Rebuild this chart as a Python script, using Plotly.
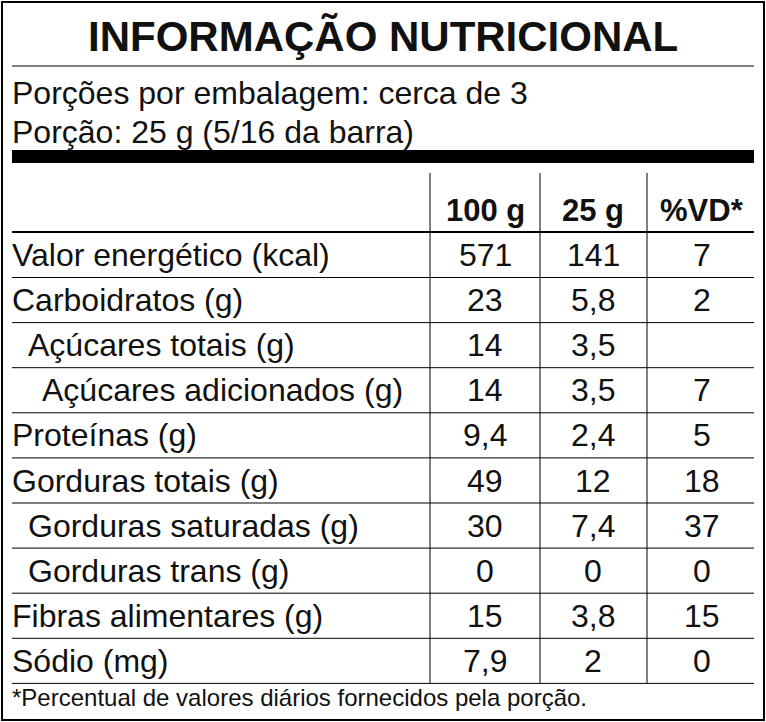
import plotly.graph_objects as go

title = "INFORMAÇÃO NUTRICIONAL"
info_lines = ["Porções por embalagem: cerca de 3", "Porção: 25 g (5/16 da barra)"]
headers = ["100 g", "25 g", "%VD*"]
labels = ["Valor energético (kcal)", "Carboidratos (g)", "Açúcares totais (g)",
          "Açúcares adicionados (g)", "Proteínas (g)", "Gorduras totais (g)",
          "Gorduras saturadas (g)", "Gorduras trans (g)", "Fibras alimentares (g)", "Sódio (mg)"]
indent = [0, 0, 1, 2, 0, 0, 1, 1, 0, 0]
per100 = ["571", "23", "14", "14", "9,4", "49", "30", "0", "15", "7,9"]
per25 = ["141", "5,8", "3,5", "3,5", "2,4", "12", "7,4", "0", "3,8", "2"]
vd = ["7", "2", "", "7", "5", "18", "37", "0", "15", "0"]
footnote = "*Percentual de valores diários fornecidos pela porção."

W, H = 766, 722
FONT = "Liberation Sans, Arial, sans-serif"
fig = go.Figure()
shapes = []
ann = []

def line(x0, y0, x1, y1, w=1):
    shapes.append(dict(type="line", x0=x0, y0=y0, x1=x1, y1=y1, line=dict(color="black", width=w)))

def text(x, y, s, size=32, anchor="left", bold=False):
    ann.append(dict(x=x, y=y, text=f"<b>{s}</b>" if bold else s, showarrow=False,
                    xanchor=anchor, yanchor="middle", font=dict(family=FONT, size=size, color="#111")))

shapes.append(dict(type="rect", x0=2, y0=2, x1=764, y1=720, line=dict(color="black", width=2)))
text(383, 36, title, size=42, anchor="center", bold=True)
line(12, 66, 754, 66, 1)
text(10, 93, info_lines[0], size=32)
text(10, 132, info_lines[1], size=32)
shapes.append(dict(type="rect", x0=12, y0=150, x1=754, y1=163, fillcolor="black", line=dict(width=0)))

cols = [485, 593, 702]
for x in [430, 540, 647]:
    line(x, 173, x, 683, 1)
for c, h in zip(cols, headers):
    text(c, 210, h, size=31, anchor="center", bold=True)
row0, step = 255, 45.1
line(12, 232, 754, 232, 2)
for i, lab in enumerate(labels):
    y = row0 + i * step
    text(10 + [0, 16, 30][indent[i]], y, lab)
    for c, v in zip(cols, [per100[i], per25[i], vd[i]]):
        if v:
            text(c, y, v, anchor="center")
    line(12, y + 22.5, 754, y + 22.5, 1)
text(10, 697, footnote, size=24)

fig.update_layout(width=W, height=H, margin=dict(l=0, r=0, t=0, b=0),
                  plot_bgcolor="white", paper_bgcolor="white",
                  shapes=shapes, annotations=ann, showlegend=False,
                  xaxis=dict(range=[0, W], visible=False, fixedrange=True),
                  yaxis=dict(range=[H, 0], visible=False, fixedrange=True))
fig.write_html("out.html", config=dict(displayModeBar=False))
with open("out.html", encoding="utf-8") as f:
    html = f.read()
html = html.replace("<head>", "<head><style>html,body{margin:0;padding:0;overflow:hidden}</style>", 1)
with open("out.html", "w", encoding="utf-8") as f:
    f.write(html)
